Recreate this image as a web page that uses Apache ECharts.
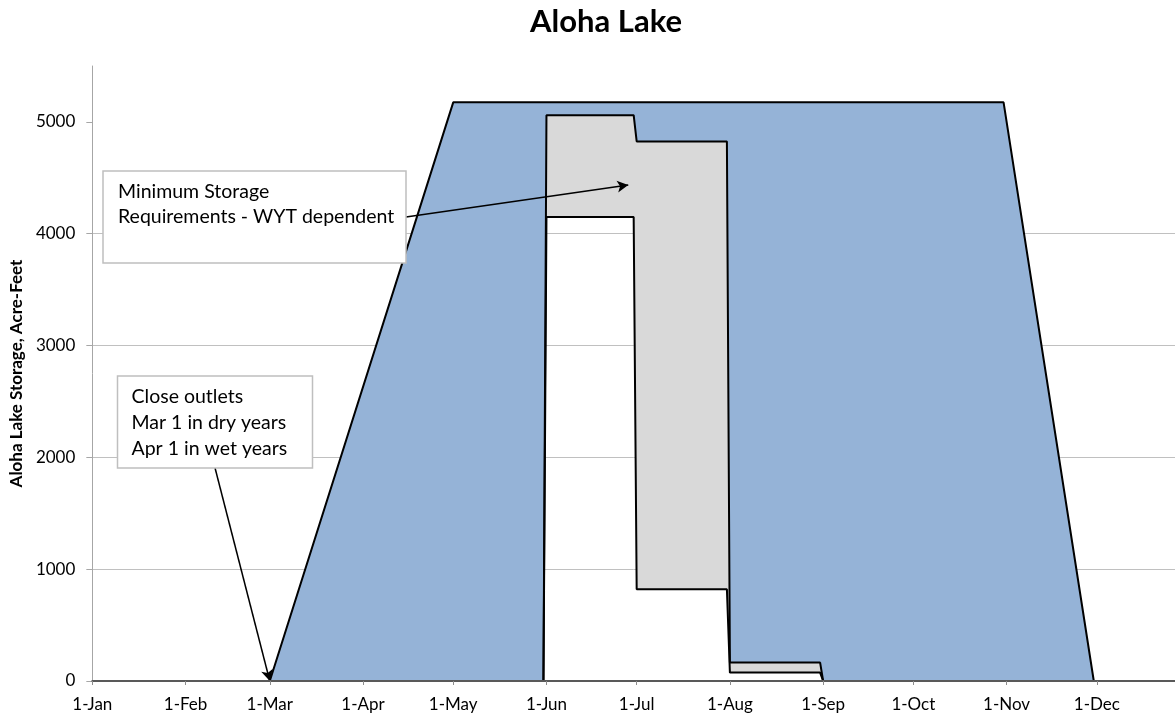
<!DOCTYPE html>
<html>
<head>
<meta charset="utf-8">
<title>Aloha Lake</title>
<script src="https://cdn.jsdelivr.net/npm/echarts@6/dist/echarts.min.js"></script>
<style>
  html, body { margin: 0; padding: 0; background: #fff; }
  #chart { width: 1175px; height: 717px; }
</style>
</head>
<body>
<div id="chart"></div>
<script>
// Day of year (0 = 1-Jan) used along the x axis
const monthTickDays = [0, 31, 59, 90, 120, 151, 181, 212, 243, 273, 304, 334];
const monthTickLabels = ['1-Jan', '1-Feb', '1-Mar', '1-Apr', '1-May', '1-Jun',
  '1-Jul', '1-Aug', '1-Sep', '1-Oct', '1-Nov', '1-Dec'];
const storageTicks = [0, 1000, 2000, 3000, 4000, 5000];

// Upper rule curve (acre-feet)
const ruleDays = [59, 120, 303, 333];
const ruleStorage = [0, 5175, 5175, 0];

// Minimum storage requirements, wet and dry water-year types
const minDays = [150, 151, 180, 181, 211, 212, 242, 243];
const minWetStorage = [0, 5060, 5060, 4825, 4825, 165, 165, 0];
const minDryStorage = [0, 4150, 4150, 820, 820, 75, 75, 0];

// Annotation arrows: [from, to] in [day, acre-feet]
const minStorageArrow = [[104.3, 4150], [178.2, 4435]];
const outletArrow = [[40.8, 1905], [59, 0]];

function zip(xs, ys) {
  return xs.map((x, i) => [x, ys[i]]);
}

// Fills the band between an upper and a lower curve
function bandRenderer(upDays, upVals, loDays, loVals, color) {
  return function (params, api) {
    const pts = [];
    for (let i = 0; i < upDays.length; i++) pts.push(api.coord([upDays[i], upVals[i]]));
    for (let i = loDays.length - 1; i >= 0; i--) pts.push(api.coord([loDays[i], loVals[i]]));
    return {
      type: 'polygon',
      shape: { points: pts },
      style: { fill: color, stroke: null }
    };
  };
}

const FONT = 'Lato, "Open Sans", sans-serif';
const chart = echarts.init(document.getElementById('chart'), null, { renderer: 'canvas' });

const outlineStyle = { color: '#000', width: 2 };

chart.setOption({
  animation: false,
  backgroundColor: '#fff',
  grid: { left: 92, right: 0, top: 66, bottom: 36 },
  xAxis: {
    type: 'value',
    min: 0,
    max: 360,
    z: 5,
    axisLine: { show: true, lineStyle: { color: '#595959', width: 2 } },
    axisTick: {
      show: true, customValues: monthTickDays, length: 4,
      lineStyle: { color: '#8c8c8c', width: 1 }
    },
    axisLabel: {
      customValues: monthTickDays,
      formatter: v => monthTickLabels[monthTickDays.indexOf(v)],
      fontFamily: FONT, fontSize: 17, color: '#000', margin: 15
    },
    splitLine: { show: false }
  },
  yAxis: {
    type: 'value',
    min: 0,
    max: 5500,
    interval: 1000,
    name: 'Aloha Lake Storage, Acre-Feet',
    nameLocation: 'middle',
    nameGap: 52,
    nameTextStyle: { fontFamily: FONT, fontSize: 17, fontWeight: 'bold', color: '#000' },
    axisLine: { show: true, lineStyle: { color: '#a6a6a6', width: 1 } },
    axisTick: {
      show: true, customValues: storageTicks, length: 6,
      lineStyle: { color: '#a6a6a6', width: 1 }
    },
    axisLabel: {
      customValues: storageTicks,
      formatter: v => String(v),
      fontFamily: FONT, fontSize: 17, color: '#000', margin: 17
    },
    splitLine: { show: true, showMaxLine: false, lineStyle: { color: '#c0c0c0', width: 1 } }
  },
  series: [
    {
      type: 'custom',
      name: 'Operating range',
      silent: true,
      clip: true,
      data: [[0, 0]],
      encode: { x: 0, y: 1 },
      renderItem: bandRenderer(ruleDays, ruleStorage, minDays, minWetStorage, '#95B3D7')
    },
    {
      type: 'custom',
      name: 'Minimum storage range',
      silent: true,
      clip: true,
      data: [[0, 0]],
      encode: { x: 0, y: 1 },
      renderItem: bandRenderer(minDays, minWetStorage, minDays, minDryStorage, '#D9D9D9')
    },
    {
      type: 'line',
      name: 'Rule curve',
      data: zip(ruleDays, ruleStorage),
      showSymbol: false,
      symbol: 'none',
      silent: true,
      lineStyle: outlineStyle,
      z: 3
    },
    {
      type: 'line',
      name: 'Minimum storage (wet)',
      data: zip(minDays, minWetStorage),
      showSymbol: false,
      symbol: 'none',
      silent: true,
      lineStyle: outlineStyle,
      z: 3
    },
    {
      type: 'line',
      name: 'Minimum storage (dry)',
      data: zip(minDays, minDryStorage),
      showSymbol: false,
      symbol: 'none',
      silent: true,
      lineStyle: outlineStyle,
      z: 3,
      markLine: {
        silent: true,
        symbol: ['none', 'arrow'],
        symbolSize: [9, 11],
        label: { show: false },
        lineStyle: { color: '#000', width: 1.5, type: 'solid' },
        data: [
          [{ coord: minStorageArrow[0] }, { coord: minStorageArrow[1] }],
          [{ coord: outletArrow[0] }, { coord: outletArrow[1] }]
        ]
      }
    }
  ],
  graphic: [
    {
      type: 'text',
      x: 606, y: 22, z: 100,
      style: {
        text: 'Aloha Lake', fontFamily: FONT, fontSize: 31, fontWeight: 'bold',
        fill: '#000', align: 'center', verticalAlign: 'middle'
      }
    },
    {
      type: 'group', z: 100,
      children: [
        {
          type: 'rect', z: 100,
          shape: { x: 103, y: 171, width: 303, height: 92 },
          style: { fill: '#fff', stroke: '#bfbfbf', lineWidth: 1.5 }
        },
        {
          type: 'text', z: 101, x: 118, y: 179.8,
          style: {
            text: 'Minimum Storage\nRequirements - WYT dependent',
            fontFamily: FONT, fontSize: 19.5, lineHeight: 24.4, fill: '#000',
            align: 'left', verticalAlign: 'top'
          }
        }
      ]
    },
    {
      type: 'group', z: 100,
      children: [
        {
          type: 'rect', z: 100,
          shape: { x: 117.5, y: 376, width: 195, height: 92 },
          style: { fill: '#fff', stroke: '#bfbfbf', lineWidth: 1.5 }
        },
        {
          type: 'text', z: 101, x: 131.5, y: 383.8,
          style: {
            text: 'Close outlets\nMar 1 in dry years\nApr 1 in wet years',
            fontFamily: FONT, fontSize: 19.5, lineHeight: 25.8, fill: '#000',
            align: 'left', verticalAlign: 'top'
          }
        }
      ]
    }
  ]
});
</script>
</body>
</html>
